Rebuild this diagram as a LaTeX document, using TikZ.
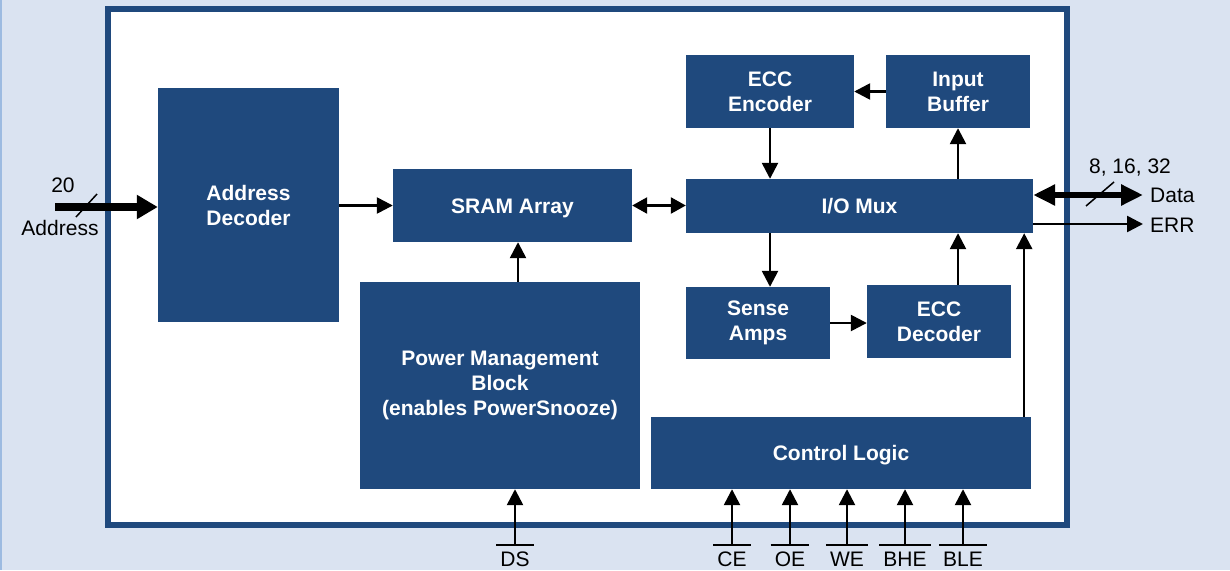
\documentclass[tikz,border=0pt]{standalone}
\usepackage{fontspec}
\setmainfont{Liberation Sans}
\usetikzlibrary{arrows.meta,calc}
\definecolor{bg}{RGB}{218,227,241}
\definecolor{navy}{RGB}{31,73,125}
\definecolor{edge}{RGB}{157,187,225}
\tikzset{
  blk/.style={fill=navy, draw=none, text=white, align=center, inner sep=0pt,
    font=\fontsize{21}{25}\selectfont\bfseries},
  one/.style={text height=15pt, text depth=0pt},
  arr/.style={draw=black, line width=2.5pt, -{Triangle[length=16pt,width=16pt]}},
  darr/.style={draw=black, line width=2.5pt, {Triangle[length=15pt,width=16pt]}-{Triangle[length=15pt,width=16pt]}},
  bigarr/.style={draw=black, line width=8pt, -{Triangle[length=21pt,width=23pt]}},
  bigdarr/.style={draw=black, line width=6pt, {Triangle[length=22pt,width=20pt]}-{Triangle[length=22pt,width=20pt]}},
  lbl/.style={font=\fontsize{21}{25}\selectfont, inner sep=0pt, text height=15pt, text depth=0pt},
  sig/.style={font=\fontsize{21}{25}\selectfont, inner xsep=4pt, inner ysep=6.5pt, text height=15pt, text depth=0pt},
  slash/.style={draw=black, line width=1.5pt},
  ovl/.style={draw=black, line width=2pt}
}
\begin{document}
\begin{tikzpicture}[x=1pt,y=-1pt]
\useasboundingbox (0,0) rectangle (1230,570);
\fill[bg] (0,0) rectangle (1230,570);
\draw[edge, line width=1.5pt] (0.75,0) -- (0.75,570);
\draw[navy, line width=6pt, fill=white] (108,9) rectangle (1067,525);

% blocks
\node[blk, minimum width=181pt, minimum height=234pt] (addr) at (248.5,205) {Address\\Decoder};
\node[blk, one, minimum width=239pt, minimum height=73pt] (sram) at (512.5,205.5) {SRAM Array};
\node[blk, minimum width=280pt, minimum height=207pt] (pm) at (500,385.5) {Power Management\\Block\\(enables PowerSnooze)};
\node[blk, minimum width=168pt, minimum height=73pt] (enc) at (770,91.5) {ECC\\Encoder};
\node[blk, minimum width=144pt, minimum height=73pt] (inbuf) at (958,91.5) {Input\\Buffer};
\node[blk, one, minimum width=347pt, minimum height=54pt] (mux) at (859.5,206) {I/O Mux};
\node[blk, minimum width=144pt, minimum height=72pt] (sense) at (758,323) {Sense\\Amps};
\node[blk, minimum width=144pt, minimum height=73pt] (dec) at (939,321.5) {ECC\\Decoder};
\node[blk, one, minimum width=380pt, minimum height=72pt] (ctrl) at (841,453) {Control Logic};

% internal connectors
\draw[arr] (addr.east |- sram.west) -- (sram.west);
\draw[darr] (sram.east) -- (sram.east -| mux.west);
\draw[arr] (enc.south) -- (enc.south |- mux.north);
\draw[arr] (inbuf.south |- mux.north) -- (inbuf.south);
\draw[arr] (inbuf.west) -- (inbuf.west -| enc.east);
\draw[arr] (enc.south |- mux.south) -- (enc.south |- sense.north);
\draw[arr] (sense.east) -- (sense.east -| dec.west);
\draw[arr] (inbuf.south |- dec.north) -- (inbuf.south |- mux.south);
\coordinate (ctrltap) at ($(ctrl.north east)+(-7,0)$);
\draw[arr] (ctrltap) -- (ctrltap |- mux.south);
\coordinate (pmtap) at ($(pm.north)+(18,0)$);
\draw[arr] (pmtap) -- (pmtap |- sram.south);

% address input
\coordinate (addrin) at (55,207);
\draw[bigarr] (addrin) -- (addrin -| addr.west);
\coordinate (as1) at (76,217);
\coordinate (as2) at (97,194);
\draw[slash] (as1) -- (as2);
\node[lbl] (n20) at (63,184.5) {20};
\node[lbl] (naddr) at (60,228) {Address};

% data outputs
\coordinate (dataout) at (1143,195);
\draw[bigdarr] (mux.east |- dataout) -- (dataout);
\coordinate (ds1) at (1086,206);
\coordinate (ds2) at (1114,182);
\draw[slash] (ds1) -- (ds2);
\node[lbl] (nwidth) at (1130,166) {8, 16, 32};
\node[lbl, anchor=west] (ndata) at (1150,194.5) {Data};
\coordinate (errout) at (1143,224);
\draw[arr] (mux.east |- errout) -- (errout);
\node[lbl, anchor=west] (nerr) at (1150,224.5) {ERR};

% control signals
\node[sig] (ds) at (515,559) {DS};
\node[sig] (ce) at (732,559) {CE};
\node[sig] (oe) at (790,559) {OE};
\node[sig] (we) at (847,559) {WE};
\node[sig] (bhe) at (905,559) {BHE};
\node[sig] (ble) at (963,559) {BLE};
\foreach \s in {ds,ce,oe,we,bhe,ble} {
  \draw[ovl] (\s.north west) -- (\s.north east);
}
\draw[arr] (ds.north) -- (ds.north |- pm.south);
\foreach \s in {ce,oe,we,bhe,ble} {
  \draw[arr] (\s.north) -- (\s.north |- ctrl.south);
}
\end{tikzpicture}
\end{document}
